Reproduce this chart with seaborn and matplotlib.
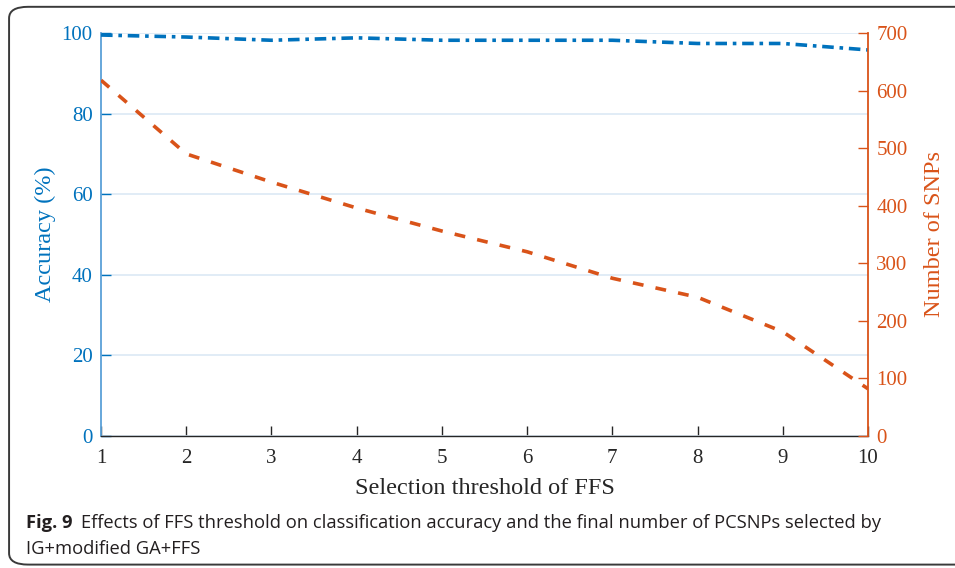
import matplotlib
matplotlib.use("Agg")
import matplotlib.pyplot as plt
from matplotlib.patches import FancyBboxPatch
import seaborn as sns
import pandas as pd

# Selection threshold of FFS and the resulting measurements
thresholds = [1, 2, 3, 4, 5, 6, 7, 8, 9, 10]
accuracy = [99.5, 99.0, 98.2, 98.8, 98.2, 98.2, 98.2, 97.4, 97.4, 95.8]
num_snps = [618, 490, 441, 396, 356, 320, 274, 241, 181, 82]

acc_ticks = [0, 20, 40, 60, 80, 100]
snp_ticks = [0, 100, 200, 300, 400, 500, 600, 700]

BLUE = "#0072BD"
ORANGE = "#D95319"
SPINE_BLUE = "#5AA0D8"
GRID = "#DCE9F5"

sns.set_style("white")
plt.rcParams["font.family"] = ["Liberation Serif", "DejaVu Serif"]

df = pd.DataFrame({"threshold": thresholds, "accuracy": accuracy, "snps": num_snps})

fig = plt.figure(figsize=(9.55, 5.68), dpi=100)
ax = fig.add_axes([0.1058, 0.2324, 0.8031, 0.7095])
ax2 = ax.twinx()

sns.lineplot(data=df, x="threshold", y="accuracy", ax=ax, color=BLUE,
             linewidth=2.6, zorder=3)
ax.lines[-1].set_dashes([3.2, 1.6, 1.0, 1.6])
sns.lineplot(data=df, x="threshold", y="snps", ax=ax2, color=ORANGE,
             linewidth=2.6, zorder=3)
ax2.lines[-1].set_dashes([3.0, 3.4])

ax.set_xlim(1, 10)
ax.set_ylim(0, 100)
ax2.set_ylim(0, 700)
ax.set_xticks(thresholds)
ax.set_yticks(acc_ticks)
ax2.set_yticks(snp_ticks)

ax.yaxis.grid(True, color=GRID, linewidth=1.2)
ax.xaxis.grid(False)
ax.set_axisbelow(True)

ax.tick_params(axis="x", direction="in", length=7, width=1, colors="#262626",
               labelsize=15, pad=9.5, bottom=True)
ax.tick_params(axis="y", direction="in", length=7, width=1, colors=BLUE,
               labelsize=15, pad=6, left=True)
ax2.tick_params(axis="y", direction="in", length=7, width=1, colors=ORANGE,
                labelsize=15, pad=6, right=True)

ax.spines["top"].set_visible(False)
ax2.spines["top"].set_visible(False)
ax.spines["left"].set_color(SPINE_BLUE)
ax.spines["left"].set_linewidth(1.3)
ax.spines["bottom"].set_color("#262626")
ax.spines["bottom"].set_linewidth(1.0)
ax.spines["right"].set_visible(False)
ax2.spines["left"].set_visible(False)
ax2.spines["bottom"].set_visible(False)
ax2.spines["right"].set_color(ORANGE)
ax2.spines["right"].set_linewidth(1.3)

ax.set_xlabel("Selection threshold of FFS", fontsize=17.5, color="#262626", labelpad=7)
ax.set_ylabel("Accuracy (%)", fontsize=17.5, color=BLUE, labelpad=4)
ax2.set_ylabel("Number of SNPs", fontsize=17.5, color=ORANGE, labelpad=11.5)

# rounded frame around the figure panel
frame = FancyBboxPatch((0.0095, 0.006), 1.2, 0.982,
                       boxstyle="round,pad=0,rounding_size=0.02",
                       transform=fig.transFigure, fill=False,
                       edgecolor="#3a3a3a", linewidth=1.4, clip_on=False)
fig.patches.append(frame)

# caption
cap_font = ["Open Sans", "DejaVu Sans"]
cap_size = 13.2
t_bold = fig.text(0.027, 0.071, "Fig. 9", fontsize=cap_size, fontweight="bold",
                  family=cap_font, color="#231f20", va="baseline")
fig.canvas.draw()
bb = t_bold.get_window_extent().transformed(fig.transFigure.inverted())
fig.text(bb.x1 + 0.009, 0.071,
         "Effects of FFS threshold on classification accuracy and the final number of PCSNPs selected by",
         fontsize=cap_size, family=cap_font, color="#231f20", va="baseline")
fig.text(0.027, 0.025, "IG+modified GA+FFS", fontsize=cap_size, family=cap_font,
         color="#231f20", va="baseline")

fig.savefig("out.png", dpi=100)
